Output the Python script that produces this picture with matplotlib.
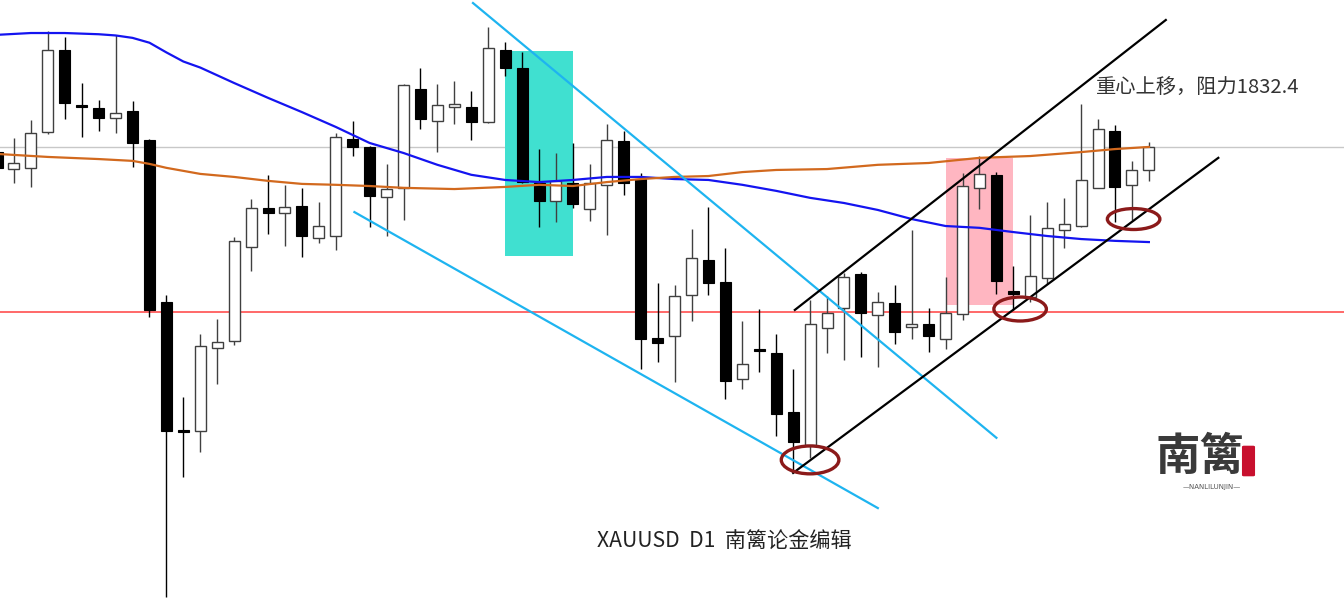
import matplotlib as mpl
mpl.use("Agg")
import matplotlib.pyplot as plt
from matplotlib.patches import Ellipse, Rectangle, FancyBboxPatch
import numpy as np

plt.rcParams['font.family'] = ['Noto Sans CJK SC', 'DejaVu Sans']

# ## daily candles (index = bar number)
opens = [1830.7, 1825.1, 1825.5, 1837.3, 1864.4, 1846.3, 1845.3, 1842.0, 1844.3, 1834.7,
         1781.2, 1739.0, 1738.7, 1766.1, 1768.4, 1799.4, 1812.3, 1810.6, 1812.9, 1802.4,
         1803.0, 1835.0, 1832.4, 1815.9, 1818.9, 1851.5, 1841.0, 1845.6, 1845.6, 1840.6,
         1864.4, 1858.5, 1820.5, 1814.6, 1820.5, 1811.9, 1819.9, 1834.4, 1821.8, 1769.4,
         1770.0, 1783.6, 1795.1, 1787.8, 1755.8, 1765.2, 1764.4, 1744.9, 1734.1, 1772.7,
         1779.3, 1790.5, 1777.0, 1780.9, 1773.0, 1774.0, 1769.0, 1777.3, 1818.9, 1823.2,
         1784.9, 1782.9, 1789.2, 1805.0, 1806.3, 1818.9, 1837.7, 1819.9, 1824.8]
highs = [1832.7, 1835.4, 1841.3, 1870.7, 1868.7, 1853.5, 1847.9, 1869.4, 1847.6, 1835.0,
         1783.6, 1749.9, 1770.7, 1775.6, 1802.7, 1815.2, 1823.2, 1819.9, 1818.9, 1814.2,
         1837.0, 1841.0, 1832.7, 1826.8, 1853.2, 1858.5, 1853.2, 1854.2, 1850.9, 1872.0,
         1867.0, 1863.7, 1831.7, 1830.4, 1833.7, 1826.8, 1840.0, 1837.7, 1823.8, 1787.5,
         1786.9, 1805.3, 1812.6, 1799.1, 1775.0, 1778.9, 1770.7, 1759.1, 1781.9, 1783.2,
         1790.8, 1791.1, 1784.5, 1786.9, 1805.0, 1779.3, 1789.5, 1823.8, 1829.4, 1824.1,
         1793.1, 1810.0, 1814.2, 1815.6, 1846.6, 1841.6, 1839.7, 1827.8, 1834.0]
lows = [1824.1, 1820.5, 1819.2, 1836.7, 1841.6, 1835.7, 1837.7, 1837.0, 1825.8, 1776.3,
        1683.9, 1723.5, 1731.7, 1754.2, 1767.1, 1791.5, 1803.7, 1799.7, 1796.1, 1800.7,
        1798.4, 1829.4, 1806.0, 1803.0, 1808.3, 1838.3, 1830.7, 1840.0, 1834.7, 1840.3,
        1855.8, 1820.5, 1806.0, 1807.6, 1812.3, 1808.0, 1803.4, 1816.6, 1759.1, 1761.4,
        1754.8, 1775.0, 1783.6, 1749.2, 1752.5, 1758.1, 1737.0, 1725.1, 1729.8, 1764.4,
        1762.1, 1763.1, 1759.8, 1767.4, 1769.0, 1764.7, 1765.7, 1775.3, 1811.9, 1783.9,
        1778.6, 1781.2, 1787.2, 1799.1, 1806.0, 1818.7, 1807.6, 1808.3, 1821.2]
closes = [1825.5, 1827.1, 1837.0, 1864.4, 1846.9, 1845.6, 1842.0, 1843.6, 1833.7, 1778.6,
          1738.7, 1738.3, 1766.7, 1768.0, 1801.4, 1812.3, 1810.6, 1812.6, 1803.0, 1806.3,
          1835.7, 1832.4, 1816.2, 1818.5, 1852.9, 1841.6, 1846.3, 1846.6, 1840.6, 1865.1,
          1858.5, 1820.8, 1814.6, 1821.2, 1813.6, 1820.5, 1834.7, 1820.5, 1769.0, 1767.7,
          1783.2, 1795.8, 1787.5, 1755.2, 1760.8, 1764.9, 1744.3, 1735.0, 1774.0, 1777.6,
          1789.5, 1777.6, 1781.2, 1771.3, 1774.0, 1770.0, 1777.6, 1819.5, 1823.5, 1788.2,
          1783.9, 1789.8, 1805.7, 1807.0, 1821.5, 1838.3, 1819.2, 1824.8, 1832.4]

# moving averages, sampled at some bars
ma_blue_idx = [0, 2, 4, 6, 7, 8, 9, 10, 11, 12, 14, 16, 18, 20, 22, 24, 26, 28, 30, 32,
               34, 36, 38, 40, 42, 44, 46, 48, 50, 52, 54, 56, 58, 60, 62, 64, 66, 68]
ma_blue = [1869.4, 1870.0, 1870.0, 1869.6, 1869.2, 1868.4, 1866.8, 1863.6, 1860.6,
           1858.6, 1853.5, 1848.6, 1843.9, 1839.0, 1833.7, 1830.4, 1826.5, 1823.2, 1821.5,
           1820.8, 1821.5, 1822.5, 1822.5, 1821.8, 1821.5, 1819.9, 1817.9, 1815.6,
           1813.9, 1811.6, 1808.6, 1806.3, 1805.7, 1804.3, 1803.0, 1802.0, 1801.4, 1801.0]
ma_orange_idx = [0, 3, 6, 8, 9, 10, 12, 14, 16, 18, 20, 22, 24, 27, 30, 32, 34, 36,
                 38, 40, 42, 44, 46, 49, 52, 55, 58, 61, 64, 66, 68]
ma_orange = [1830.1, 1829.1, 1828.4, 1827.8, 1826.8, 1825.5, 1823.5, 1822.5, 1821.2,
             1820.2, 1819.9, 1819.5, 1818.9, 1818.5, 1819.2, 1819.9, 1819.5, 1820.8,
             1821.8, 1822.5, 1822.8, 1824.1, 1824.8, 1825.1, 1826.5, 1827.1, 1828.8,
             1829.4, 1830.7, 1831.7, 1832.4]

resistance = 1832.4
support = 1777.9

# trend lines: (bar0, price0, bar1, price1)
down_lines = [(28.1, 1879.9, 59.0, 1736.4), (21.1, 1810.9, 52.0, 1713.2)]
channel_lines = [(47.1, 1778.6, 69.0, 1874.3), (47.0, 1724.8, 72.1, 1828.8)]

# highlight boxes: (bar0, bar1, price_low, price_high)
teal_box = (30.0, 34.0, 1796.4, 1864.1)
pink_box = (56.0, 60.0, 1780.2, 1828.8)

# circles on the lows: (bar, price, width in bars, height in price)
rings = [(48.0, 1729.1, 3.4, 9.2), (60.4, 1778.9, 3.1, 7.9), (67.1, 1808.6, 3.1, 6.9)]

title_txt = "XAUUSD  D1  南篱论金编辑"
note_txt = "重心上移，阻力1832.4"

fig = plt.figure(figsize=(13.44, 6.02), dpi=100)
ax = fig.add_axes([0, 0, 1, 1])
ax.set_xlim(0.177, 79.52)
ax.set_ylim(1682.2, 1880.9)
ax.axis("off")

ax.axhline(resistance, color="#c8c8c8", lw=1.0, zorder=1)
ax.axhline(support, color="#ff4040", lw=1.1, zorder=1)

for (b0, b1, lo, hi), col in ((teal_box, "#40e0d0"), (pink_box, "#ffb6c1")):
    ax.add_patch(Rectangle((b0, lo), b1 - b0, hi - lo, color=col, lw=0, zorder=1.5))

# candles
o = np.array(opens)
c = np.array(closes)
x = np.arange(len(o))
up = c >= o
wick_col = np.where(up, "#404040", "#000000")
ax.vlines(x, lows, highs, colors=wick_col, lw=1.0, zorder=3)
bottom = np.minimum(o, c)
height = np.maximum(np.abs(c - o), 0.7)
ax.bar(x[up], height[up], bottom=bottom[up], width=0.65, color="white",
       edgecolor="#404040", lw=1.0, zorder=4)
ax.bar(x[~up], height[~up], bottom=bottom[~up], width=0.65, color="black",
       edgecolor="black", lw=0.8, zorder=4)

ax.plot(ma_blue_idx, ma_blue, color="#1414f0", lw=1.6, zorder=5)
ax.plot(ma_orange_idx, ma_orange, color="#d2691e", lw=1.6, zorder=5)

for b0, p0, b1, p1 in down_lines:
    ax.plot([b0, b1], [p0, p1], color="#1eb4f0", lw=1.6, zorder=6)
for b0, p0, b1, p1 in channel_lines:
    ax.plot([b0, b1], [p0, p1], color="black", lw=1.6, zorder=6)

for bx, py, w, h in rings:
    ax.add_patch(Ellipse((bx, py), w, h, fill=False, edgecolor="#8b1a1a",
                         lw=2.4, zorder=7))

fig.text(1096 / 1344, 1 - 88 / 602, note_txt, fontsize=14.6, color="#333333",
         ha="left", va="center")
fig.text(597 / 1344, 1 - 542 / 602, title_txt, fontsize=15.2, color="#222222",
         ha="left", va="center")

# logo bottom right
fig.text(1200 / 1344, 1 - 457 / 602, "南篱", fontsize=32, fontweight="bold",
         color="#3a3a3a", ha="center", va="center")
fig.text(1212 / 1344, 1 - 487 / 602, "—NANLILUNJIN—", fontsize=5, color="#555555",
         ha="center", va="center", family=["DejaVu Sans"])
fig.patches.append(FancyBboxPatch((1244 / 1344, 1 - 475 / 602), 9 / 1344, 28 / 602,
                                  boxstyle="round,pad=0.001", color="#c8102e",
                                  transform=fig.transFigure, figure=fig))

fig.savefig("out.png", dpi=100)
plt.close(fig)
